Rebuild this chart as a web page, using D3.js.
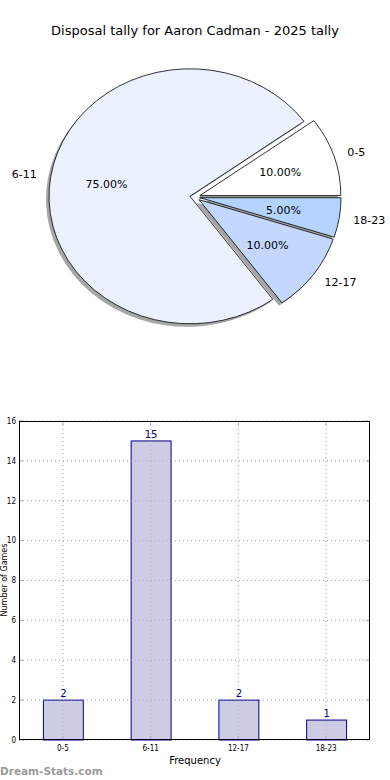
<!DOCTYPE html>
<html><head><meta charset="utf-8">
<script src="https://cdn.jsdelivr.net/npm/d3@7/dist/d3.min.js"></script>
<style>body{margin:0;background:#fff}svg{display:block;font-family:"DejaVu Sans",sans-serif}</style>
</head><body>
<script>
const title = "Disposal tally for Aaron Cadman - 2025 tally";
const categories = ["0-5", "6-11", "12-17", "18-23"];
const counts = [2, 15, 2, 1];
const pieOrder = ["0-5", "6-11", "12-17", "18-23"];
const pieColors = ["#ffffff", "#ebf1ff", "#c4d8ff", "#b3d4ff"];
const yTicks = [0, 2, 4, 6, 8, 10, 12, 14, 16];
const xLabel = "Frequency";
const yLabel = "Number of Games";
const watermark = "Dream-Stats.com";

const W = 390, H = 780;
const svg = d3.select("body").append("svg").attr("width", W).attr("height", H);

svg.append("text").attr("x", 195).attr("y", 35).attr("text-anchor", "middle")
  .attr("font-size", 13).attr("fill", "#000").text(title);

// ---- Pie ----
const cx = 195, cy = 197, rx = 141, ry = 127.5, explode = 0.036;
const total = d3.sum(counts);
const pieData = pieOrder.map((c, i) => ({cat: c, value: counts[categories.indexOf(c)], color: pieColors[i]}));
const pie = d3.pie().sort(null).value(d => d.value).startAngle(Math.PI / 2).endAngle(Math.PI / 2 - 2 * Math.PI);
const arcs = pie(pieData);
const arcGen = d3.arc().innerRadius(0).outerRadius(1);
const pg = svg.append("g");
function theta(a) { return Math.PI / 2 - a; }
arcs.forEach(a => {
  const mid = theta((a.startAngle + a.endAngle) / 2);
  a.ox = cx + explode * rx * Math.cos(mid);
  a.oy = cy - explode * ry * Math.sin(mid);
  a.mid = mid;
});
arcs.forEach(a => {
  pg.append("path").attr("d", arcGen(a))
    .attr("transform", `translate(${a.ox - 3},${a.oy + 3}) scale(${rx},${ry})`)
    .attr("fill", "#4d4d4d").attr("fill-opacity", 0.5).attr("stroke", "none");
});
arcs.forEach(a => {
  pg.append("path").attr("d", arcGen(a))
    .attr("transform", `translate(${a.ox},${a.oy}) scale(${rx},${ry})`)
    .attr("fill", a.data.color).attr("stroke", "#000").attr("stroke-width", 0.8)
    .attr("vector-effect", "non-scaling-stroke").attr("stroke-linejoin", "round");
});
arcs.forEach(a => {
  const c = Math.cos(a.mid), s = Math.sin(a.mid);
  pg.append("text").attr("x", a.ox + 1.1 * rx * c).attr("y", a.oy - 1.1 * ry * s)
    .attr("dy", "0.35em").attr("text-anchor", c >= 0 ? "start" : "end")
    .attr("font-size", 11).text(a.data.cat);
  pg.append("text").attr("x", a.ox + 0.6 * rx * c).attr("y", a.oy - 0.6 * ry * s)
    .attr("dy", "0.35em").attr("text-anchor", "middle")
    .attr("font-size", 11).text((a.data.value / total * 100).toFixed(2) + "%");
});

// ---- Bar chart ----
const L = 19, R = 370, T = 421, B = 740;
const x = d3.scaleBand().domain(categories).range([L, R]).paddingInner(0.545).paddingOuter(0.2725);
const y = d3.scaleLinear().domain([0, 16]).range([B, T]);
const bg = svg.append("g");
bg.selectAll(".gy").data(yTicks).join("line")
  .attr("x1", L).attr("x2", R).attr("y1", d => y(d)).attr("y2", d => y(d))
  .attr("stroke", "#b8b8b8").attr("stroke-width", 1).attr("stroke-dasharray", "1,3");
bg.selectAll(".gx").data(categories).join("line")
  .attr("x1", d => x(d) + x.bandwidth() / 2).attr("x2", d => x(d) + x.bandwidth() / 2)
  .attr("y1", T).attr("y2", B)
  .attr("stroke", "#b8b8b8").attr("stroke-width", 1).attr("stroke-dasharray", "1,3");
bg.selectAll(".bar").data(categories).join("rect")
  .attr("x", d => x(d) + 0.5).attr("width", x.bandwidth())
  .attr("y", (d, i) => y(counts[i])).attr("height", (d, i) => B - y(counts[i]))
  .attr("fill", "#ccccE5").attr("stroke", "#00008b").attr("stroke-width", 1);
bg.selectAll(".gx2").data(categories).join("line")
  .attr("x1", d => x(d) + x.bandwidth() / 2).attr("x2", d => x(d) + x.bandwidth() / 2)
  .attr("y1", T).attr("y2", B)
  .attr("stroke", "#a8a8b8").attr("stroke-width", 1).attr("stroke-dasharray", "1,3").attr("opacity", 0.7);
bg.selectAll(".gy2").data(yTicks).join("line")
  .attr("x1", L).attr("x2", R).attr("y1", d => y(d)).attr("y2", d => y(d))
  .attr("stroke", "#a8a8b8").attr("stroke-width", 1).attr("stroke-dasharray", "1,3").attr("opacity", 0.7);
bg.selectAll(".vl").data(categories).join("text")
  .attr("x", d => x(d) + x.bandwidth() / 2 + 0.5).attr("y", (d, i) => y(counts[i]) - 3)
  .attr("text-anchor", "middle").attr("font-size", 10).attr("fill", "#00008b")
  .text((d, i) => counts[i]);
bg.selectAll(".tl").data(yTicks).join("line")
  .attr("x1", L).attr("x2", L + 4).attr("y1", d => y(d)).attr("y2", d => y(d)).attr("stroke", "#aaa");
bg.selectAll(".tr").data(yTicks).join("line")
  .attr("x1", R - 4).attr("x2", R).attr("y1", d => y(d)).attr("y2", d => y(d)).attr("stroke", "#aaa");
bg.selectAll(".tb").data(categories).join("line")
  .attr("x1", d => x(d) + x.bandwidth() / 2).attr("x2", d => x(d) + x.bandwidth() / 2)
  .attr("y1", B - 4).attr("y2", B).attr("stroke", "#aaa");
bg.selectAll(".tt").data(categories).join("line")
  .attr("x1", d => x(d) + x.bandwidth() / 2).attr("x2", d => x(d) + x.bandwidth() / 2)
  .attr("y1", T).attr("y2", T + 4).attr("stroke", "#aaa");
bg.append("rect").attr("x", L + 0.5).attr("y", T + 0.5).attr("width", R - L - 1).attr("height", B - T - 1)
  .attr("fill", "none").attr("stroke", "#000").attr("stroke-width", 1);
bg.selectAll(".yl").data(yTicks).join("text")
  .attr("x", L - 3).attr("y", d => y(d)).attr("dy", "0.35em").attr("text-anchor", "end")
  .attr("font-size", 8).attr("font-family", "DejaVu Sans Condensed, DejaVu Sans").text(d => d);
bg.selectAll(".xl").data(categories).join("text")
  .attr("x", d => x(d) + x.bandwidth() / 2).attr("y", B + 11).attr("text-anchor", "middle")
  .attr("font-size", 8).attr("font-family", "DejaVu Sans Condensed, DejaVu Sans").text(d => d);
svg.append("text").attr("x", 195).attr("y", 764).attr("text-anchor", "middle")
  .attr("font-size", 10).text(xLabel);
svg.append("text").attr("transform", "translate(7,580) rotate(-90)").attr("text-anchor", "middle")
  .attr("font-size", 8).text(yLabel);
svg.append("text").attr("x", 0).attr("y", 775).attr("font-size", 10.5).attr("font-weight", "bold")
  .attr("fill", "#9a9a9a").text(watermark);
</script>
</body></html>
